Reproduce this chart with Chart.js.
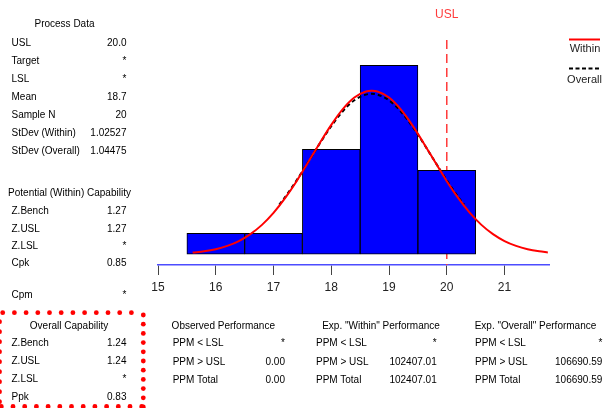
<!DOCTYPE html>
<html>
<head>
<meta charset="utf-8">
<script src="https://cdn.jsdelivr.net/npm/chart.js@4.4.1/dist/chart.umd.min.js"></script>
<style>
  html, body { margin: 0; padding: 0; background: #fff; }
  #wrap { position: relative; width: 603px; height: 408px; overflow: hidden; }
  #chart { position: absolute; left: 0; top: 0; }
  .lbl { position: absolute; white-space: nowrap; font-family: "Liberation Sans", Arial, sans-serif; font-size: 10px; line-height: 14px; color: #000; }
</style>
</head>
<body>
<div id="wrap"><canvas id="chart" width="603" height="408"></canvas></div>
<script>
// histogram (class centres and counts, N = 20)
const binCenters = [16, 17, 18, 19, 20];
const binCounts = [1, 1, 5, 9, 4];
const usl = 20;

// fitted curves (scaled to counts)
const withinX = [15.6, 15.8, 16.0, 16.2, 16.4, 16.6, 16.8, 17.0, 17.2, 17.4, 17.6, 17.8, 18.0, 18.2, 18.4, 18.6, 18.7, 18.8, 19.0, 19.2, 19.4, 19.6, 19.8, 20.0, 20.2, 20.4, 20.6, 20.8, 21.0, 21.2, 21.4, 21.6, 21.75];
const withinY = [0.08, 0.14, 0.24, 0.40, 0.63, 0.96, 1.40, 1.97, 2.67, 3.48, 4.38, 5.29, 6.16, 6.91, 7.46, 7.75, 7.78, 7.75, 7.46, 6.91, 6.16, 5.29, 4.38, 3.48, 2.67, 1.97, 1.40, 0.96, 0.63, 0.40, 0.24, 0.14, 0.09];
const overallX = [17.1, 17.2, 17.4, 17.6, 17.8, 18.0, 18.2, 18.4, 18.6, 18.7, 18.8, 19.0, 19.2, 19.4, 19.6, 19.8, 20.0, 20.2, 20.3];
const overallY = [2.36, 2.72, 3.52, 4.39, 5.27, 6.10, 6.81, 7.33, 7.60, 7.64, 7.60, 7.33, 6.81, 6.10, 5.27, 4.39, 3.52, 2.72, 2.36];

// text panels
const processLabels = ['USL', 'Target', 'LSL', 'Mean', 'Sample N', 'StDev (Within)', 'StDev (Overall)'];
const processValues = ['20.0', '*', '*', '18.7', '20', '1.02527', '1.04475'];
const withinCapLabels = ['Z.Bench', 'Z.USL', 'Z.LSL', 'Cpk', 'Cpm'];
const withinCapValues = ['1.27', '1.27', '*', '0.85', '*'];
const overallCapLabels = ['Z.Bench', 'Z.USL', 'Z.LSL', 'Ppk'];
const overallCapValues = ['1.24', '1.24', '*', '0.83'];
const perfLabels = ['PPM < LSL', 'PPM > USL', 'PPM Total'];
const observedPerf = ['*', '0.00', '0.00'];
const withinPerf = ['*', '102407.01', '102407.01'];
const overallPerf = ['*', '106690.59', '106690.59'];

const FONT = '"Liberation Sans", Arial, sans-serif';
const wrap = document.getElementById('wrap');

function addText(str, x, y, align, opts) {
  const el = document.createElement('div');
  el.className = 'lbl';
  el.textContent = str;
  const size = (opts && opts.size) || 10;
  el.style.fontSize = size + 'px';
  el.style.lineHeight = (size + 4) + 'px';
  if (opts && opts.color) el.style.color = opts.color;
  el.style.top = (y - (size + 4) / 2) + 'px';
  if (align === 'right') {
    el.style.right = (603 - x) + 'px';
  } else if (align === 'center') {
    el.style.left = x + 'px';
    el.style.transform = 'translateX(-50%)';
  } else {
    el.style.left = x + 'px';
  }
  wrap.appendChild(el);
}

function addRows(labels, values, ys, xLabel, xValue) {
  labels.forEach((l, i) => {
    addText(l, xLabel, ys[i], 'left');
    addText(values[i], xValue, ys[i], 'right');
  });
}

const decor = {
  id: 'decor',
  beforeDatasetsDraw(chart) {
    // USL reference line, under the bars
    const { ctx, chartArea, scales } = chart;
    const x = scales.x.getPixelForValue(usl);
    ctx.save();
    ctx.strokeStyle = '#ff3a3a';
    ctx.lineWidth = 1.5;
    ctx.setLineDash([9, 5]);
    ctx.beginPath();
    ctx.moveTo(x, chartArea.top);
    ctx.lineTo(x, chartArea.bottom);
    ctx.stroke();
    ctx.restore();
  },
  afterDraw(chart) {
    const { ctx } = chart;
    ctx.save();
    // legend samples
    ctx.lineWidth = 2;
    ctx.strokeStyle = '#ff0000';
    ctx.beginPath(); ctx.moveTo(569, 39.5); ctx.lineTo(600, 39.5); ctx.stroke();
    ctx.strokeStyle = '#000';
    ctx.setLineDash([4, 2.5]);
    ctx.beginPath(); ctx.moveTo(569, 68.5); ctx.lineTo(600, 68.5); ctx.stroke();
    ctx.setLineDash([]);
    // dotted frame around overall capability
    ctx.fillStyle = '#ff0000';
    const dot = (x, y) => { ctx.beginPath(); ctx.arc(x, y, 2.4, 0, Math.PI * 2); ctx.fill(); };
    for (let x = 2.7; x < 138; x += 11.7) dot(x, 312.7);
    for (let y = 315; y <= 408; y += 9.2) dot(143.3, y);
    for (let x = 141.7; x > 0; x -= 11.7) dot(x, 406.5);
    for (let y = 321.7; y < 404; y += 10) dot(-0.5, y);
    ctx.restore();
  }
};

const chart = new Chart(document.getElementById('chart'), {
  type: 'bar',
  data: {
    datasets: [
      {
        type: 'line', label: 'Within',
        data: withinX.map((x, i) => ({ x, y: withinY[i] })),
        borderColor: '#ff0000', borderWidth: 2, pointRadius: 0,
        cubicInterpolationMode: 'monotone', order: 1
      },
      {
        type: 'line', label: 'Overall',
        data: overallX.map((x, i) => ({ x, y: overallY[i] })),
        borderColor: '#000000', borderWidth: 2, borderDash: [4, 3], pointRadius: 0,
        cubicInterpolationMode: 'monotone', order: 2
      },
      {
        type: 'bar', label: 'Count',
        data: binCenters.map((x, i) => ({ x, y: binCounts[i] })),
        backgroundColor: '#0000ff', borderColor: '#000000', borderWidth: 1,
        borderSkipped: false, barPercentage: 1, categoryPercentage: 1, order: 3
      }
    ]
  },
  options: {
    responsive: false,
    animation: false,
    devicePixelRatio: 1,
    layout: { padding: { left: 158, right: 54, top: 40, bottom: 113 } },
    plugins: { legend: { display: false }, tooltip: { enabled: false } },
    scales: {
      x: {
        type: 'linear', min: 15, max: 21.77, offset: false,
        grid: { offset: false, drawOnChartArea: false, drawTicks: true, tickLength: 10, color: '#444444', lineWidth: 1 },
        border: { display: true, color: '#4d4dff', width: 1.5 },
        ticks: {
          stepSize: 1, includeBounds: false, autoSkip: false, maxRotation: 0, padding: 5,
          color: '#222222', font: { family: FONT, size: 12 }
        },
        afterFit: s => { s.height = 30; s.paddingLeft = 0; s.paddingRight = 0; }
      },
      y: { display: false, min: -0.51, max: 10.2 }
    }
  },
  plugins: [decor]
});

// USL marker label
addText('USL', chart.scales.x.getPixelForValue(usl), 14, 'center', { size: 12, color: '#ff3b3b' });

// legend text
addText('Within', 585, 48, 'center', { size: 11, color: '#222' });
addText('Overall', 584.5, 79, 'center', { size: 11, color: '#222' });

// left panels
addText('Process Data', 64.5, 24, 'center');
addRows(processLabels, processValues, [42.7, 60.7, 79, 97, 115, 133, 151], 11.5, 126.5);
addText('Potential (Within) Capability', 69.5, 193.3, 'center');
addRows(withinCapLabels, withinCapValues, [211.3, 228.7, 246, 263.3, 294.7], 11.5, 126.5);
addText('Overall Capability', 69, 326, 'center');
addRows(overallCapLabels, overallCapValues, [343.3, 361.3, 379.3, 396.7], 11.5, 126.5);

// performance tables
const perfY = [343.3, 362, 379.5];
addText('Observed Performance', 223.3, 326, 'center');
addRows(perfLabels, observedPerf, perfY, 172.7, 285);
addText('Exp. "Within" Performance', 381, 326, 'center');
addRows(perfLabels, withinPerf, perfY, 316, 436.7);
addText('Exp. "Overall" Performance', 535.5, 326, 'center');
addRows(perfLabels, overallPerf, perfY, 475, 602.3);
</script>
</body>
</html>
